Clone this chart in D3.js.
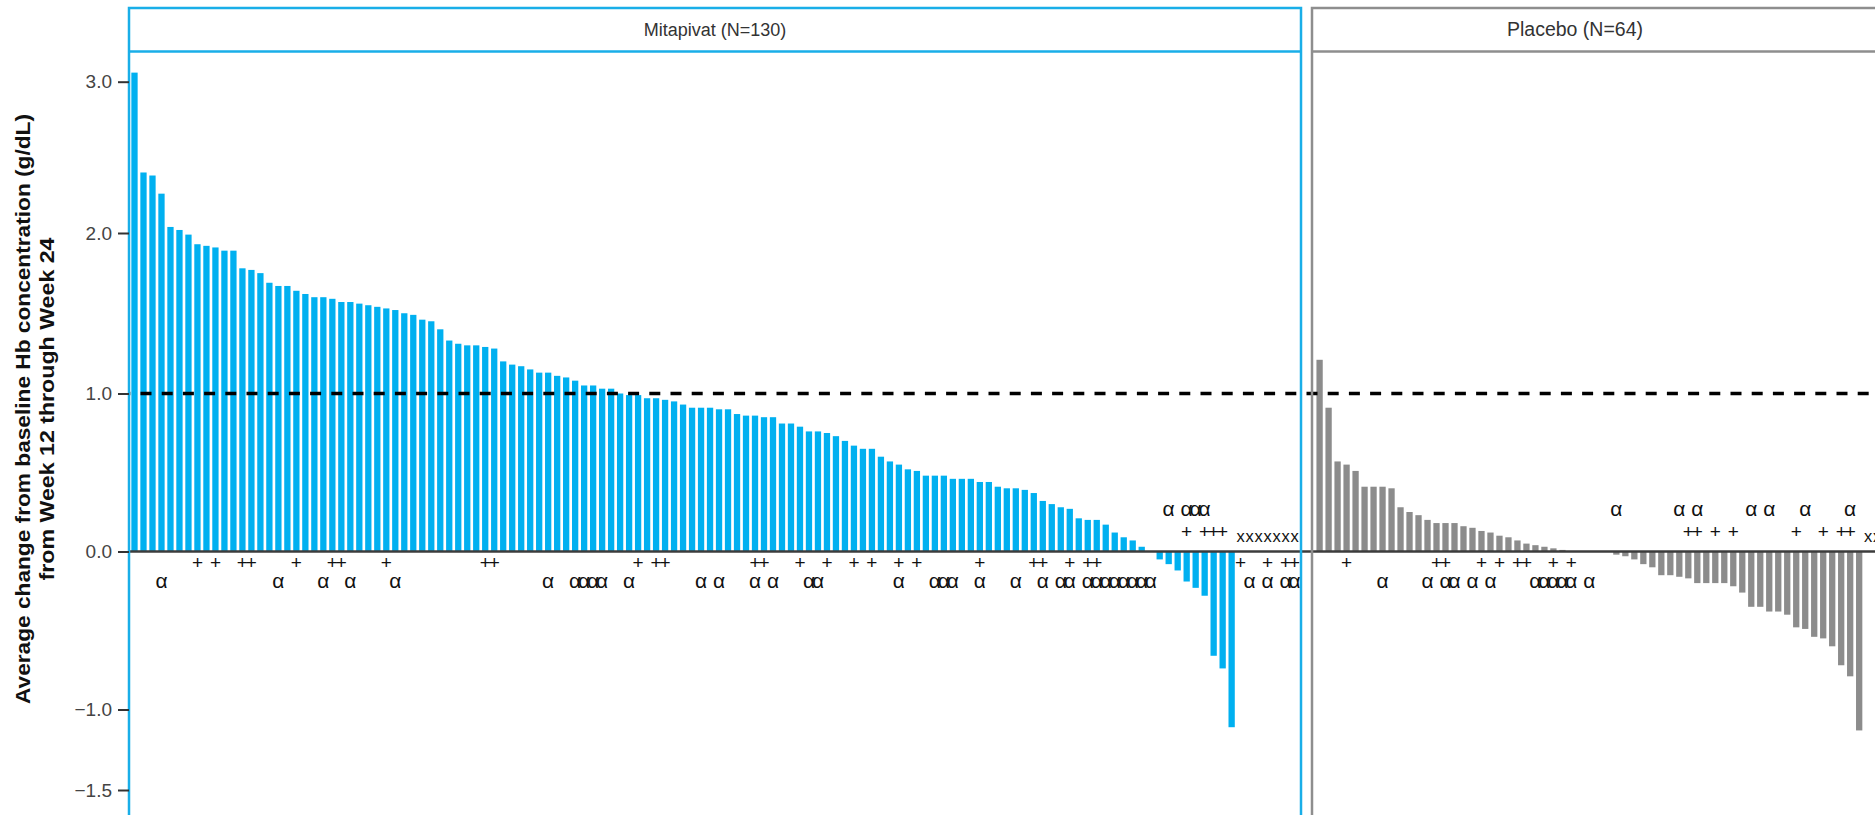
<!DOCTYPE html>
<html><head><meta charset="utf-8">
<script src="https://cdn.jsdelivr.net/npm/d3@7/dist/d3.min.js"></script>
<style>body{margin:0;background:#fff;} svg{display:block;font-family:"Liberation Sans",Arial,sans-serif;}</style>
</head><body>
<svg id="chart" width="1875" height="815"></svg>
<script>
// ---------------- data ----------------
const panelTitles = ["Mitapivat (N=130)", "Placebo (N=64)"];
const yTicks = [-1.5, -1, 0, 1, 2, 3];
const refLine = 1.0;
const axisTitle = ["Average change from baseline Hb concentration (g/dL)", "from Week 12 through Week 24"];

// null = no value (shown as "x")
const mitaValues = [3.06,2.40,2.38,2.26,2.04,2.02,1.99,1.93,1.92,1.91,1.89,1.89,1.78,1.77,1.75,1.69,1.67,1.67,1.64,1.62,
  1.60,1.60,1.59,1.57,1.57,1.56,1.55,1.54,1.53,1.52,1.50,1.49,1.46,1.45,1.40,1.33,1.31,1.30,1.30,1.29,
  1.28,1.20,1.18,1.17,1.15,1.13,1.13,1.11,1.10,1.08,1.05,1.05,1.03,1.03,1.00,0.99,0.99,0.97,0.97,0.96,
  0.95,0.93,0.91,0.91,0.91,0.90,0.90,0.87,0.86,0.86,0.85,0.85,0.81,0.81,0.79,0.76,0.76,0.75,0.73,0.70,
  0.67,0.65,0.65,0.60,0.57,0.55,0.52,0.51,0.48,0.48,0.48,0.46,0.46,0.46,0.44,0.44,0.41,0.40,0.40,0.39,
  0.37,0.32,0.30,0.28,0.27,0.21,0.20,0.20,0.17,0.12,0.09,0.07,0.03,0.00,-0.05,-0.08,-0.12,-0.19,-0.23,-0.28,
  -0.66,-0.74,-1.11,null,null,null,null,null,null,null];
const mitaPlus = [7,9,12,13,18,22,23,28,39,40,56,58,59,69,70,74,77,80,82,85,87,94,100,101,104,106,107,
  117,119,120,121,123,126,128,129];
const mitaAlpha = [3,16,21,24,29,46,49,50,51,52,55,63,65,69,71,75,76,85,89,90,91,94,98,101,103,104,
  106,107,108,109,110,111,112,113,115,117,118,119,124,126,128,129];

const placeboValues = [1.21,0.91,0.57,0.55,0.51,0.41,0.41,0.41,0.40,0.28,0.25,0.23,0.20,0.18,0.18,0.18,0.16,0.15,0.13,0.12,
  0.10,0.09,0.07,0.05,0.04,0.03,0.02,0.01,0,0,0,0,0,-0.02,-0.03,-0.05,-0.08,-0.10,-0.15,-0.15,
  -0.16,-0.17,-0.20,-0.20,-0.20,-0.20,-0.22,-0.26,-0.35,-0.35,-0.38,-0.38,-0.40,-0.48,-0.49,-0.54,-0.55,-0.60,-0.72,-0.79,
  -1.13,null,null,null];
const placeboPlus = [3,13,14,18,20,22,23,26,28,41,42,44,46,53,56,58,59];
const placeboAlpha = [7,12,14,15,17,19,24,25,26,27,28,30,33,40,42,48,50,54,59];

// ---------------- layout ----------------
const svg = d3.select("#chart");
const W = 1875, H = 815;
const headerTop = 8, headerBottom = 51.5;
const axisX = 129;

const y = d3.scaleLinear()
  .domain([-1.5, -1, 0, 1, 2, 3])
  .range([790, 709.5, 551.5, 393.5, 233, 81.7]);

const step = 8.993;
const panels = [
  {title: panelTitles[0], titleX: 715, titleSize: 18, values: mitaValues, plus: mitaPlus, alpha: mitaAlpha,
   fill: "#00B0F0", stroke: "#19AEE8", left: 129, right: 1301, bandStart: 130.0},
  {title: panelTitles[1], titleX: 1575, titleSize: 19.5, values: placeboValues, plus: placeboPlus, alpha: placeboAlpha,
   fill: "#8C8C8C", stroke: "#8E8E8E", left: 1312, right: 1893, bandStart: 1315.1}
];

const defs = svg.append("defs");
const y0 = y(0);
const rows = {alphaAbove: 516, plusAbove: 537.5, xMark: 542, plusBelow: 568.5, alphaBelow: 588};

panels.forEach((p, pi) => {
  const n = p.values.length;
  const x = d3.scaleBand().domain(d3.range(n))
    .range([p.bandStart, p.bandStart + n * step])
    .paddingInner(0.3).paddingOuter(0.15);

  const g = svg.append("g");
  // bars
  g.append("g").selectAll("rect")
    .data(p.values.map((v, i) => ({v, i})).filter(d => d.v !== null))
    .join("rect")
    .attr("x", d => x(d.i))
    .attr("width", x.bandwidth())
    .attr("y", d => y(Math.max(0, d.v)))
    .attr("height", d => Math.abs(y(d.v) - y(0)))
    .attr("fill", p.fill);

  // markers (clipped to panel)
  defs.append("clipPath").attr("id", "clip" + pi)
    .append("rect").attr("x", p.left).attr("y", headerBottom)
    .attr("width", p.right - p.left).attr("height", H);
  const mg = g.append("g").attr("clip-path", `url(#clip${pi})`)
    .attr("fill", "#111").attr("text-anchor", "middle");
  const cx = i => x(i) + x.bandwidth() / 2;
  const isNeg = i => p.values[i] !== null && p.values[i] < 0;

  mg.selectAll("text.plus").data(p.plus).join("text").attr("class", "plus")
    .attr("x", cx).attr("y", i => isNeg(i) ? rows.plusAbove : rows.plusBelow)
    .attr("font-size", 19).text("+");
  mg.selectAll("text.alpha").data(p.alpha).join("text").attr("class", "alpha")
    .attr("x", cx).attr("y", i => isNeg(i) ? rows.alphaAbove : rows.alphaBelow)
    .attr("font-size", 21).text("α");
  mg.selectAll("text.xm").data(d3.range(n).filter(i => p.values[i] === null)).join("text").attr("class", "xm")
    .attr("x", cx).attr("y", rows.xMark)
    .attr("font-size", 16.5).text("x");
});

// zero line
svg.append("line").attr("x1", axisX).attr("x2", W).attr("y1", y0).attr("y2", y0)
  .attr("stroke", "#3c3c3c").attr("stroke-width", 2.5);
// reference dashed line
svg.append("line").attr("x1", axisX).attr("x2", W).attr("y1", y(refLine)).attr("y2", y(refLine))
  .attr("stroke", "#000").attr("stroke-width", 3.4)
  .attr("stroke-dasharray", "11,10.2").attr("stroke-dashoffset", 9.7);

// panel frames + headers
panels.forEach(p => {
  svg.append("rect").attr("x", p.left).attr("y", headerTop)
    .attr("width", p.right - p.left).attr("height", H + 20 - headerTop)
    .attr("fill", "none").attr("stroke", p.stroke).attr("stroke-width", 2.5);
  svg.append("line").attr("x1", p.left).attr("x2", p.right)
    .attr("y1", headerBottom).attr("y2", headerBottom)
    .attr("stroke", p.stroke).attr("stroke-width", 2.5);
  svg.append("text").attr("x", p.titleX).attr("y", 36)
    .attr("text-anchor", "middle").attr("font-size", p.titleSize).attr("fill", "#333")
    .text(p.title);
});

// y axis
const yAxis = d3.axisLeft(y).tickValues(yTicks).tickFormat(d3.format(".1f"))
  .tickSize(11).tickPadding(6);
const ax = svg.append("g").attr("transform", `translate(${axisX},0)`).call(yAxis);
ax.select(".domain").remove();
ax.selectAll(".tick line").attr("stroke", "#333").attr("stroke-width", 2);
ax.selectAll(".tick text").attr("font-size", 19).attr("fill", "#444")
  .attr("font-family", "Liberation Sans, Arial, sans-serif");

// axis title
const tg = svg.append("g").attr("transform", "translate(0,409) rotate(-90)")
  .attr("text-anchor", "middle").attr("font-weight", "bold").attr("font-size", 20).attr("fill", "#111");
tg.append("text").attr("x", 0).attr("y", 30).attr("textLength", 590).attr("lengthAdjust", "spacingAndGlyphs").text(axisTitle[0]);
tg.append("text").attr("x", 0).attr("y", 54).attr("textLength", 343).attr("lengthAdjust", "spacingAndGlyphs").text(axisTitle[1]);
</script>
</body></html>
